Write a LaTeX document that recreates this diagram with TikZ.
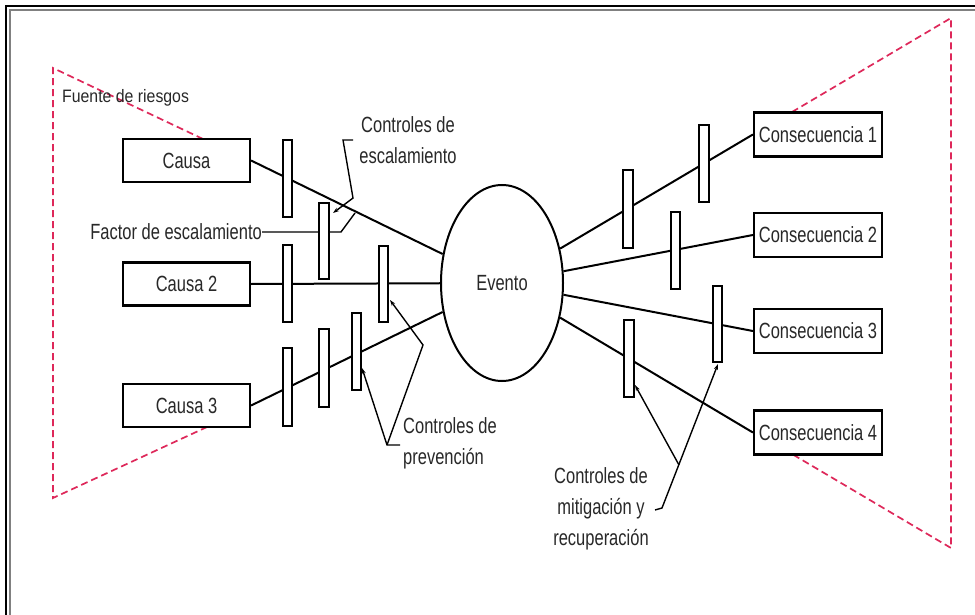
\documentclass[tikz,border=0pt]{standalone}
\usepackage{fontspec}
\setmainfont{Liberation Sans}
\newfontfamily\labfont[FakeStretch=0.75]{Liberation Sans}
\newfontfamily\srcfont[FakeStretch=0.88]{Liberation Sans}
\usetikzlibrary{shapes.geometric,arrows.meta}
\definecolor{txt}{RGB}{40,40,40}
\definecolor{risk}{RGB}{222,40,90}
\begin{document}
\begin{tikzpicture}[x=1pt,y=-1pt,
  lbl/.style={font=\labfont\fontsize{22}{31}\selectfont, text=txt, inner sep=0pt},
  boxnode/.style={draw, line width=2.2pt, minimum width=127pt, minimum height=43pt, inner sep=0pt, lbl},
  bar/.style={draw, line width=1.7pt, fill=white, minimum width=9pt, minimum height=77pt, inner sep=0pt},
  link/.style={line width=2pt},
  ptr/.style={line width=1.4pt},
  tip/.style={-{Stealth[length=6pt,width=4pt]}},
  riskline/.style={risk, line width=1.7pt, dash pattern=on 7pt off 4pt}]
\useasboundingbox (0,0) rectangle (975,615);
\fill[white] (0,0) rectangle (975,615);
% frame
\draw[line width=2.5pt] (6,615) -- (6,6) -- (975,6);
\draw[gray, line width=1.5pt] (10,615) -- (10,10) -- (975,10);

% risk source triangles
\coordinate (lt) at (203,139);
\coordinate (lta) at (53,68);
\coordinate (lba) at (53,498);
\coordinate (lb) at (207,427);
\draw[riskline] (lt) -- (lta) -- (lba) -- (lb);
\coordinate (rt) at (792,112);
\coordinate (rta) at (951,18);
\coordinate (rba) at (951,548);
\coordinate (rb) at (792,454);
\draw[riskline] (rt) -- (rta) -- (rba) -- (rb);
\node[font=\srcfont\fontsize{18}{20}\selectfont, text=txt, anchor=west, inner sep=0pt] (src) at (62,98) {Fuente de riesgos};

% event
\node[ellipse, draw, line width=2pt, minimum width=122pt, minimum height=196pt, inner sep=0pt, lbl] (ev) at (502,283) {Evento};

% causes
\node[boxnode] (c1) at (186.5,160.5) {Causa};
\node[boxnode] (c2) at (186.5,284) {Causa 2};
\node[boxnode] (c3) at (186.5,405.5) {Causa 3};
% consequences
\node[boxnode, minimum width=128pt, minimum height=44pt] (k1) at (818,134.5) {Consecuencia 1};
\node[boxnode, minimum width=128pt, minimum height=44pt] (k2) at (818,235) {Consecuencia 2};
\node[boxnode, minimum width=128pt, minimum height=44pt] (k3) at (818,331) {Consecuencia 3};
\node[boxnode, minimum width=128pt, minimum height=44pt] (k4) at (818,432.5) {Consecuencia 4};

\draw[link] (c1.east) -- (ev);
\draw[link] (c2.east) -- (ev);
\draw[link] (c3.east) -- (ev);
\draw[link] (ev) -- (k1.west);
\draw[link] (ev) -- (k2.west);
\draw[link] (ev) -- (k3.west);
\draw[link] (ev) -- (k4.west);

% labels
\node[lbl, align=center] (esc) at (408,140) {Controles de\\escalamiento};
\node[lbl, anchor=east] (fac) at (262,232) {Factor de escalamiento};
\node[lbl, align=left, anchor=west] (prev) at (403,443) {Controles de\\prevención};
\node[lbl, align=center] (mit) at (601,509) {Controles de\\mitigación y\\recuperación};

% pointer lines (behind bars)
\coordinate (e1) at (353,140);
\coordinate (e2) at (343,140);
\coordinate (e3) at (353,198);
\coordinate (e4) at (333,213);
\draw[ptr, tip] (e1) -- (e2) -- (e3) -- (e4);
\coordinate (f1) at (341,232);
\coordinate (f2) at (355,213);
\draw[ptr] (fac.east) -- (f1) -- (f2);

\coordinate (p0) at (400,445);
\coordinate (p1) at (387,445);
\coordinate (p2) at (423,345);
\coordinate (pD) at (390,300);
\coordinate (pG) at (362,368);
\draw[ptr, tip] (p1) -- (p2) -- (pD);
\draw[ptr, tip] (p0) -- (p1) -- (pG);

\coordinate (m0) at (655,510);
\coordinate (m1) at (662,508);
\coordinate (mK) at (718,364);
\coordinate (m2) at (679,465);
\coordinate (mL) at (635,385);
\draw[ptr, tip] (m0) -- (m1) -- (mK);
\draw[ptr, tip] (m2) -- (mL);

% barriers
\node[bar] (bA) at (287.5,178.5) {};
\node[bar, minimum width=10pt, minimum height=76pt] (bB) at (324,241) {};
\node[bar] (bC) at (287.5,283.5) {};
\node[bar, minimum height=76pt] (bD) at (383.5,284) {};
\node[bar, minimum height=78pt] (bE) at (287.5,387) {};
\node[bar, minimum width=10pt, minimum height=78pt] (bF) at (324,368) {};
\node[bar] (bG) at (356.5,351.5) {};
\node[bar, minimum width=10pt, minimum height=78pt] (bH) at (628,209) {};
\node[bar, minimum width=10pt] (bI) at (704,163.5) {};
\node[bar] (bJ) at (675.5,250.5) {};
\node[bar, minimum height=76pt] (bK) at (717.5,324) {};
\node[bar, minimum width=10pt] (bL) at (629,358.5) {};
\end{tikzpicture}
\end{document}
